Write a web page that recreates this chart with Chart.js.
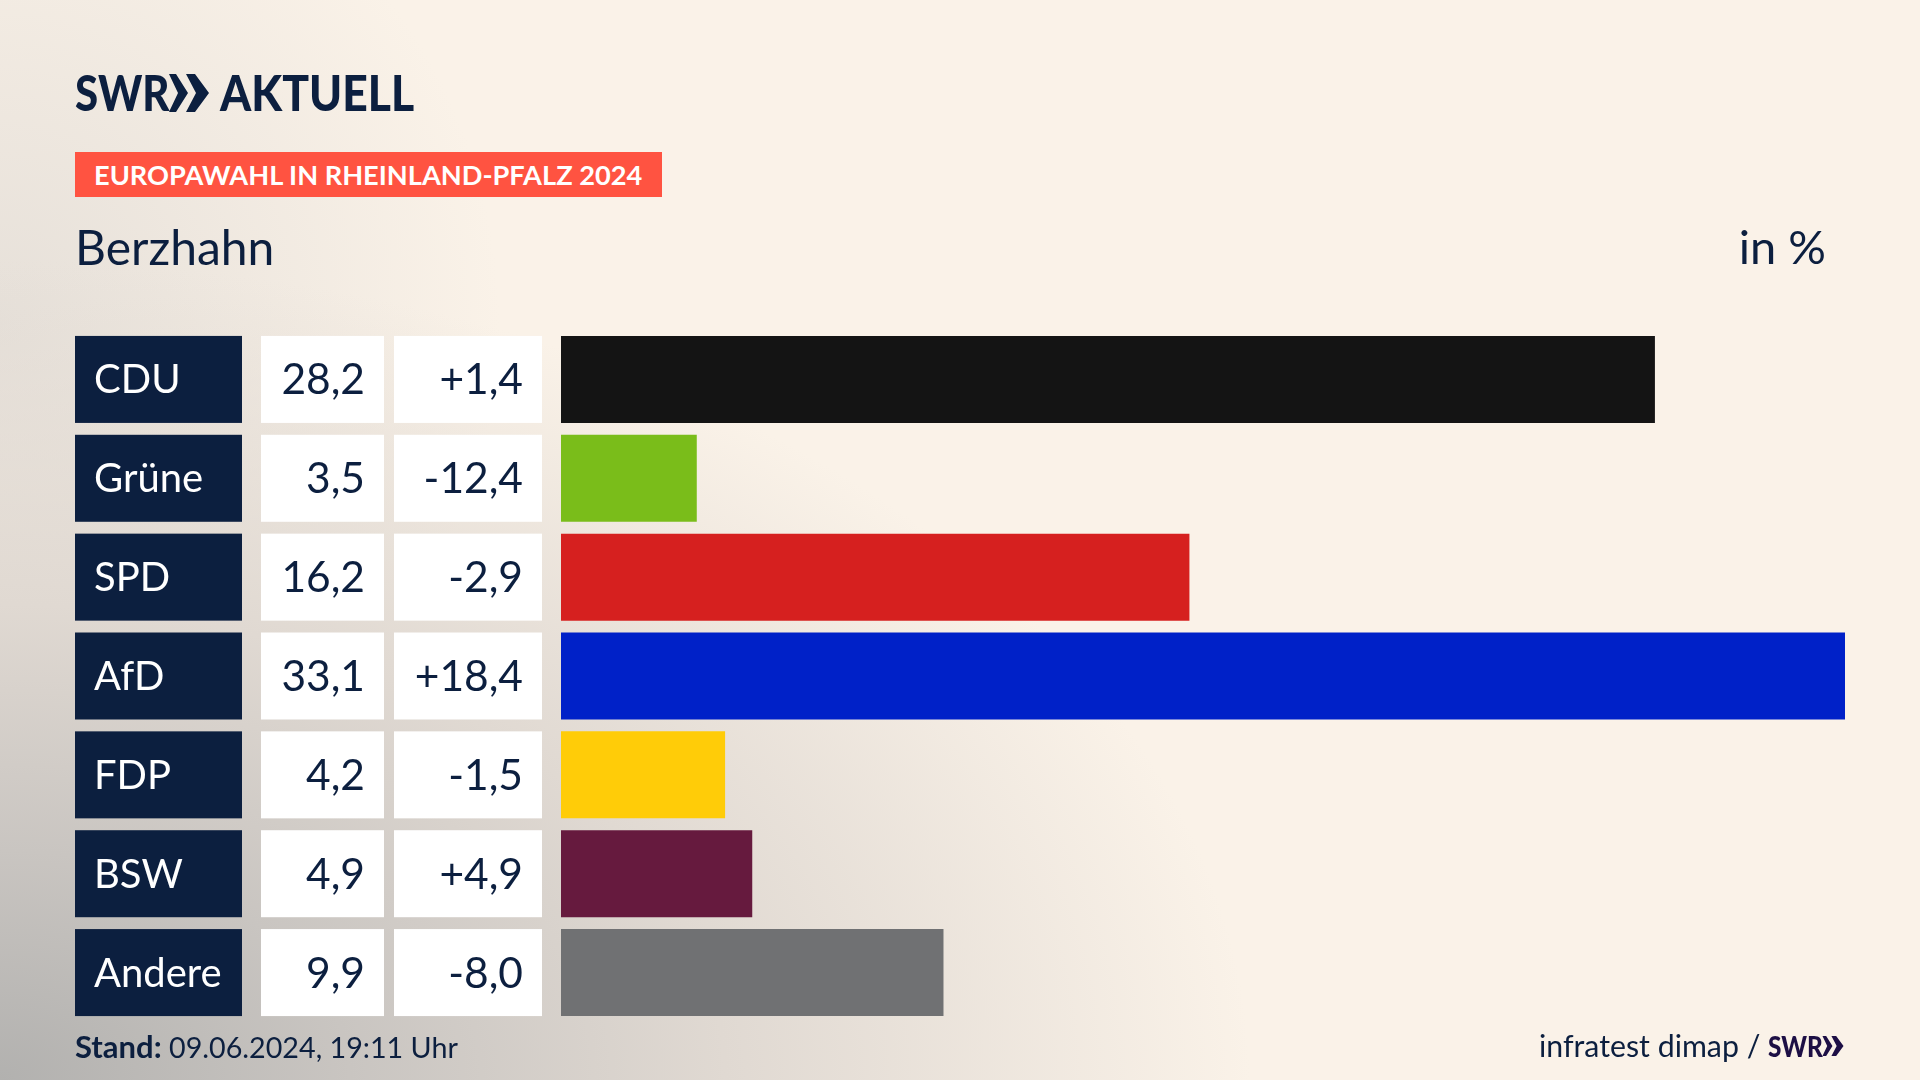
<!DOCTYPE html>
<html lang="de">
<head>
  <meta charset="UTF-8" />
  <title>Europawahl in Rheinland-Pfalz 2024 - Berzhahn</title>
  <script src="https://cdn.jsdelivr.net/npm/chart.js"></script>
  <style>
    html, body { margin: 0; padding: 0; width: 1920px; height: 1080px; overflow: hidden; }
    body {
      position: relative;
      font-family: Lato, sans-serif;
      color: #0c1f3f;
      background:
        radial-gradient(ellipse 1250px 820px at 0% 100%, #b2b1af 0%, #c9c5c1 28%, #e0d9d2 58%, rgba(250,242,232,0) 100%),
        radial-gradient(ellipse 500px 520px at 0% 30%, #e6e0d9 0%, rgba(250,242,232,0) 100%),
        #faf2e8;
    }
    #chart { position: absolute; left: 0; top: 0; }
    .txt { position: absolute; white-space: nowrap; line-height: 1; }
    .logo { left: 75px; top: 67px; font-size: 50px; font-weight: 900; transform: scaleX(0.84); transform-origin: left; }
    .logo2 { left: 220px; top: 67px; font-size: 50px; font-weight: 900; transform: scaleX(0.89); transform-origin: left; }
    .banner { position: absolute; left: 75px; top: 152px; width: 587px; height: 45px; background: #ff5341; }
    .banner span { position: absolute; left: 19px; top: 9px; font-size: 27.2px; font-weight: 700; color: #fff; white-space: nowrap; line-height: 1; }
    .region { left: 75px; top: 223px; font-size: 48px; }
    .unit { right: 94px; top: 223px; font-size: 47px; }
    .stand { left: 75px; top: 1031px; font-size: 28.7px; }
    .stand b { font-size: 31px; }
    .source { left: 1539px; top: 1030px; font-size: 30.3px; }
    .swr2 { left: 1768px; top: 1032px; font-size: 28px; font-weight: 900; color: #1d0f45; transform: scaleX(0.87); transform-origin: left; }
    svg { position: absolute; }
  </style>
</head>
<body>
  <canvas id="chart" width="1920" height="1080"></canvas>

  <div class="txt logo">SWR</div>
  <svg style="left:169px;top:74px" width="40" height="38" viewBox="0 0 40 38"><path fill="#0c1f3f" d="M0 0 L7 0 L19 19 L7 38 L0 38 L9 19 Z M17 0 L26 0 L40 19 L26 38 L17 38 L27 19 Z"/></svg>
  <div class="txt logo2">AKTUELL</div>

  <div class="banner"><span>EUROPAWAHL IN RHEINLAND-PFALZ 2024</span></div>
  <div class="txt region">Berzhahn</div>
  <div class="txt unit">in %</div>

  <div class="txt stand"><b>Stand:</b> 09.06.2024, 19:11 Uhr</div>
  <div class="txt source">infratest dimap /</div>
  <div class="txt swr2">SWR</div>
  <svg style="left:1822px;top:1036px" width="22" height="20" viewBox="0 0 40 38"><path fill="#1d0f45" d="M0 0 L7 0 L19 19 L7 38 L0 38 L9 19 Z M17 0 L26 0 L40 19 L26 38 L17 38 L27 19 Z"/></svg>

  <script>
    const parties = ["CDU", "Grüne", "SPD", "AfD", "FDP", "BSW", "Andere"];
    // bar lengths, they round to the printed labels
    const shares = [28.2, 3.5, 16.2, 33.1, 4.23, 4.93, 9.86];
    const changes = [1.4, -12.4, -2.9, 18.4, -1.5, 4.9, -8.0];
    const barColors = ["#141414", "#7abd1a", "#d6201f", "#0021c8", "#ffcc08", "#661a3e", "#707173"];

    const NAVY = "#0c1f3f";
    const NAME_FONT = "40px Lato, sans-serif";
    const NUM_FONT = "42.5px Lato, sans-serif";

    function comma(v) { return v.toFixed(1).replace(".", ","); }
    function signed(v) { return (v > 0 ? "+" : "") + comma(v); }

    // the three table columns left of the bars, one row per category
    const tableCells = {
      id: "tableCells",
      beforeDatasetsDraw(chart) {
        const ctx = chart.ctx;
        const bars = chart.getDatasetMeta(0).data;
        ctx.save();
        ctx.textBaseline = "alphabetic";
        parties.forEach((name, i) => {
          const mid = chart.scales.y.getPixelForValue(i);
          const h = bars[i].height;
          const top = mid - h / 2;

          ctx.fillStyle = NAVY;
          ctx.fillRect(75, top, 167, h);
          ctx.fillStyle = "#fff";
          ctx.fillRect(261, top, 123, h);
          ctx.fillRect(394, top, 148, h);

          ctx.font = NAME_FONT;
          ctx.textAlign = "left";
          ctx.fillText(name, 94, mid + 14);
          ctx.font = NUM_FONT;
          ctx.fillStyle = NAVY;
          ctx.textAlign = "right";
          ctx.fillText(comma(shares[i]), 365, mid + 15);
          ctx.fillText(signed(changes[i]), 523, mid + 15);
        });
        ctx.restore();
      }
    };

    new Chart(document.getElementById("chart"), {
      type: "bar",
      data: {
        labels: parties,
        datasets: [{
          data: shares,
          backgroundColor: barColors,
          borderWidth: 0,
          barPercentage: 0.88,
          categoryPercentage: 1
        }]
      },
      options: {
        indexAxis: "y",
        responsive: false,
        animation: false,
        devicePixelRatio: 1,
        layout: { padding: { left: 561, right: 75, top: 330, bottom: 58 } },
        plugins: { legend: { display: false }, tooltip: { enabled: false } },
        scales: {
          x: { display: false, min: 0, max: 33.1 },
          y: { display: false }
        }
      },
      plugins: [tableCells]
    });
  </script>
</body>
</html>
